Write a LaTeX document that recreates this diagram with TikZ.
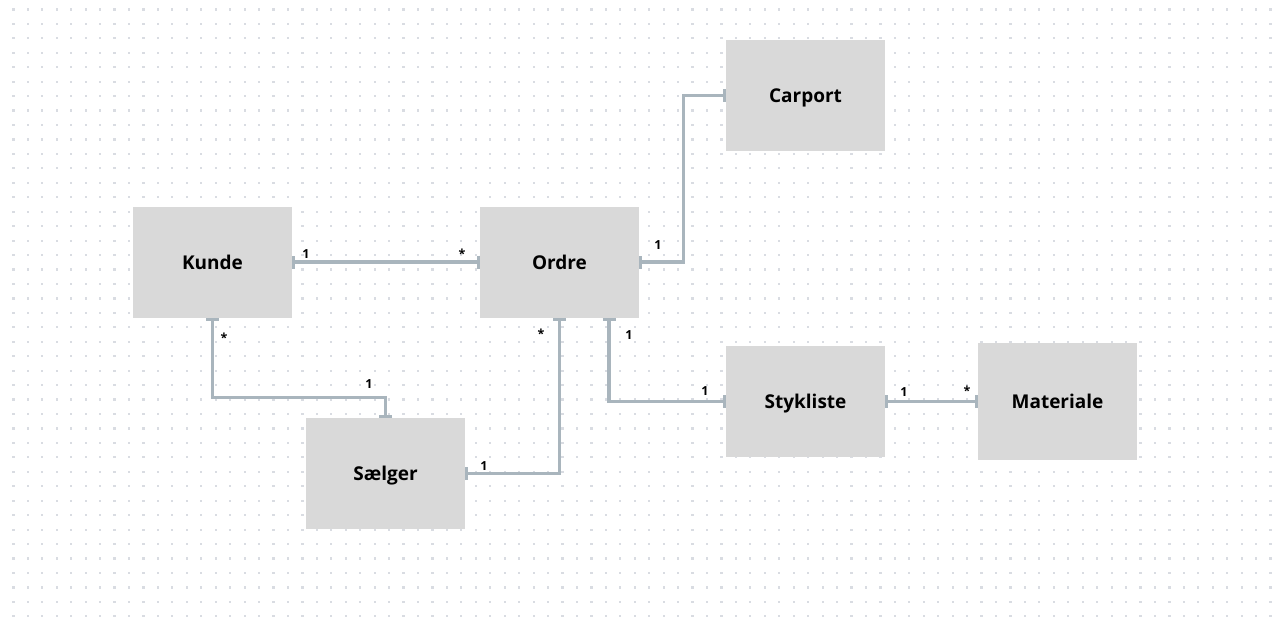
\documentclass[tikz,border=0pt]{standalone}
\usepackage{fontspec}
\setmainfont{Open Sans}
\usetikzlibrary{arrows.meta}
\definecolor{dotc}{HTML}{D9DCE2}
\definecolor{boxc}{HTML}{D9D9D9}
\definecolor{linec}{HTML}{A9B5BD}
\tikzset{
  entity/.style={fill=boxc, draw=none, minimum width=159pt, minimum height=111pt, inner sep=0pt, text height=14.5pt, text depth=0pt, font=\fontsize{19}{22}\selectfont\bfseries},
  rel/.style={draw=linec, line width=3.2pt, {Bar[width=13pt,line width=3.2pt]}-{Bar[width=13pt,line width=3.2pt]}},
  card/.style={inner sep=0pt, font=\fontsize{12.5}{14}\selectfont\bfseries}
}
\begin{document}
\begin{tikzpicture}[x=1pt,y=-1pt]
\useasboundingbox (0,0) rectangle (1281,627);
\fill[white] (0,0) rectangle (1281,627);
\foreach \i in {0,...,87}{
  \foreach \j in {0,...,42}{
    \fill[dotc] ({12.3+14.45*\i},{8.3+14.45*\j}) rectangle ++(2.2,2.2);
  }
}
\node[entity] (carport) at (805.5,95.5) {Carport};
\node[entity] (kunde) at (212.5,262) {Kunde};
\node[entity] (ordre) at (559.5,262) {Ordre};
\node[entity] (stykliste) at (805.5,401.5) {Stykliste};
\node[entity, minimum height=117pt] (materiale) at (1057.5,401.5) {Materiale};
\node[entity] (saelger) at (385.5,473.5) {Sælger};

\draw[rel] (kunde.east) -- (ordre.west);
\draw[rel] (ordre.east) -- ++(44,0) |- (carport.west);
\draw[rel] (kunde.south) -- ++(0,80) -| (saelger.north);
\draw[rel] (ordre.south) |- (saelger.east);
\draw[rel] ([xshift=49.5pt]ordre.south) |- (stykliste.west);
\draw[rel] (stykliste.east) -- (materiale.west);

\node[card] (c1) at (306,254) {1};
\node[card] (c2) at (462,254) {*};
\node[card] (c3) at (658,245) {1};
\node[card] (c4) at (224,338) {*};
\node[card] (c5) at (369,384) {1};
\node[card] (c6) at (541,334) {*};
\node[card] (c7) at (484,466) {1};
\node[card] (c8) at (629,335) {1};
\node[card] (c9) at (705,391) {1};
\node[card] (c10) at (904,392) {1};
\node[card] (c11) at (967,391) {*};
\end{tikzpicture}
\end{document}
